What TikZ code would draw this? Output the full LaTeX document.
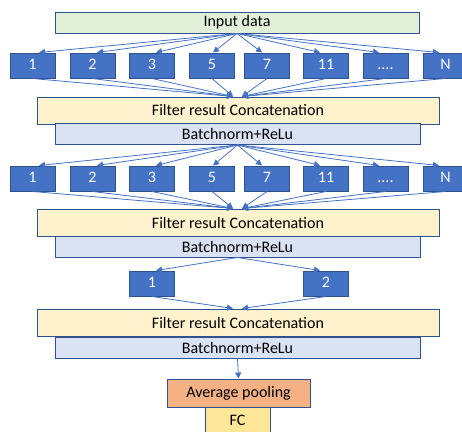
\documentclass[tikz,border=0pt]{standalone}
\usepackage{fontspec}
\setmainfont{Carlito}
\usetikzlibrary{arrows.meta}
\definecolor{edgeblue}{HTML}{2F528F}
\definecolor{filtblue}{HTML}{4472C4}
\definecolor{inputgreen}{HTML}{E2F0D9}
\definecolor{concatyellow}{HTML}{FFF2CC}
\definecolor{normblue}{HTML}{DAE3F3}
\definecolor{poolorange}{HTML}{F4B183}
\definecolor{fcgold}{HTML}{FFE699}
\newcommand{\manydots}{....}
\tikzset{
  basebox/.style={draw=edgeblue, line width=1pt, inner sep=0pt, anchor=center,
    font=\fontsize{16}{18}\selectfont, text=black},
  filterbox/.style={basebox, fill=filtblue, text=white, minimum width=45pt, minimum height=25pt,
    text height=11pt, text depth=3pt},
  inputbox/.style={basebox, fill=inputgreen, minimum width=364pt, minimum height=21pt},
  concatbox/.style={basebox, fill=concatyellow, minimum width=402pt, minimum height=27pt},
  normbox/.style={basebox, fill=normblue, minimum width=365pt, minimum height=21pt},
  poolbox/.style={basebox, fill=poolorange, minimum width=143pt, minimum height=28pt},
  fcbox/.style={basebox, fill=fcgold, minimum width=65pt, minimum height=26pt},
  conn/.style={draw=filtblue, line width=0.8pt, -{Triangle[length=6pt,width=6pt]}},
}
\begin{document}
\begin{tikzpicture}[x=1pt,y=-1pt]
\useasboundingbox (0,0) rectangle (462,431);
\clip (0,0) rectangle (462,431);

% input
\node[inputbox] (in) at (237,22.5) {Input data};

% first filter bank
\foreach \cx/\lab/\nm in {32.5/1/a1, 92.5/2/a2, 152/3/a3, 212/5/a5,
    267/7/a7, 326/11/a11, 385.5/\manydots/adots, 445.5/N/aN}
  \node[filterbox] (\nm) at (\cx,65.5) {\lab};

\node[concatbox] (c1) at (238,110.5) {Filter result Concatenation};
\node[normbox] (n1) at (237.5,134) {Batchnorm+ReLu};

% second filter bank
\foreach \cx/\lab/\nm in {32.5/1/b1, 92.5/2/b2, 152/3/b3, 212/5/b5,
    267/7/b7, 326/11/b11, 385.5/\manydots/bdots, 445.5/N/bN}
  \node[filterbox] (\nm) at (\cx,178.5) {\lab};

\node[concatbox] (c2) at (238,222.5) {Filter result Concatenation};
\node[normbox] (n2) at (237.5,246.5) {Batchnorm+ReLu};

% third filter bank
\node[filterbox] (d1) at (152,283.5) {1};
\node[filterbox] (d2) at (326,283.5) {2};

\node[concatbox] (c3) at (238,322.5) {Filter result Concatenation};
\node[normbox] (n3) at (237.5,347.5) {Batchnorm+ReLu};

% head
\node[poolbox] (pool) at (238.5,393) {Average pooling};
\node[fcbox] (fc) at (237.5,420) {FC};

% fan-out / fan-in, bank 1
\foreach \nm/\dx in {a1/6.5, a2/4.5, a3/4, a5/1, a7/-5, a11/-6, adots/-6.5, aN/-6.5}
  \draw[conn] (in.south) -- ([xshift=\dx pt]\nm.north);
\foreach \nm in {a1, a2, a3, a5}
  \draw[conn] (\nm.south) -- ([xshift=-5pt]c1.north);
\foreach \nm in {a7, a11, adots, aN}
  \draw[conn] (\nm.south) -- ([xshift=4pt]c1.north);

% fan-out / fan-in, bank 2
\foreach \nm/\dx in {b1/6.5, b2/4.5, b3/4, b5/1, b7/-5, b11/-6, bdots/-6.5, bN/-6.5}
  \draw[conn] (n1.south) -- ([xshift=\dx pt]\nm.north);
\foreach \nm in {b1, b2, b3, b5}
  \draw[conn] (\nm.south) -- ([xshift=-5pt]c2.north);
\foreach \nm in {b7, b11, bdots, bN}
  \draw[conn] (\nm.south) -- ([xshift=4pt]c2.north);

% bank 3
\draw[conn] (n2.south) -- ([xshift=4pt]d1.north);
\draw[conn] (n2.south) -- ([xshift=-6pt]d2.north);
\draw[conn] (d1.south) -- ([xshift=-5pt]c3.north);
\draw[conn] (d2.south) -- ([xshift=4pt]c3.north);

% to pooling
\draw[conn] (n3.south) -- (pool.north);
\end{tikzpicture}
\end{document}
